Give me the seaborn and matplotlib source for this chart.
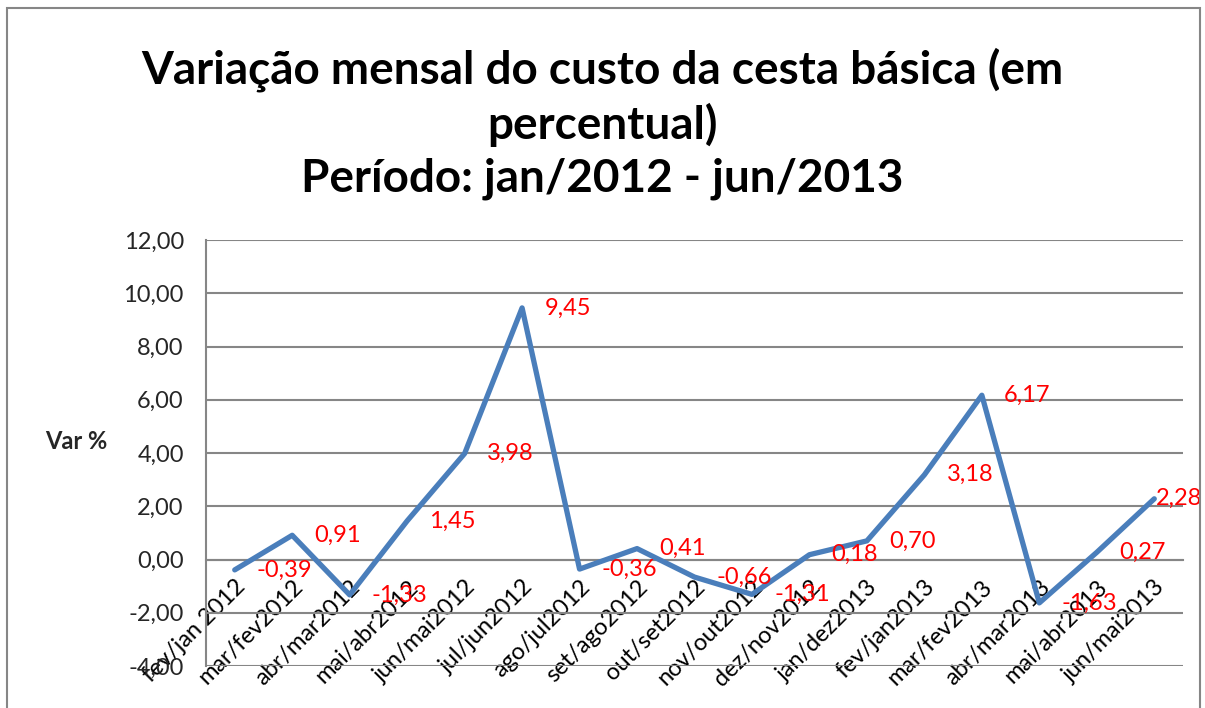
import pandas as pd
import seaborn as sns
import numpy as np
import matplotlib.pyplot as plt
from matplotlib.patches import Rectangle
from matplotlib.ticker import FuncFormatter, MultipleLocator

# dados
periodos = ['fev/jan 2012', 'mar/fev2012', 'abr/mar2012', 'mai/abr2012', 'jun/mai2012',
            'jul/jun2012', 'ago/jul2012', 'set/ago2012', 'out/set2012', 'nov/out2012',
            'dez/nov2012', 'jan/dez2013', 'fev/jan2013', 'mar/fev2013', 'abr/mar2013',
            'mai/abr2013', 'jun/mai2013']
variacao = [-0.39, 0.91, -1.33, 1.45, 3.98, 9.45, -0.36, 0.41, -0.66, -1.31,
            0.18, 0.70, 3.18, 6.17, -1.63, 0.27, 2.28]

titulo = 'Variação mensal do custo da cesta básica (em\npercentual)\nPeríodo: jan/2012 - jun/2013'

df = pd.DataFrame({'periodo': periodos, 'var': variacao})

sns.set_style('white')
plt.rcParams['font.family'] = ['Lato', 'DejaVu Sans']

fig = plt.figure(figsize=(12.05, 7.08), dpi=100)
ax = fig.add_axes([206/1205, 42/708, (1183-206)/1205, (666-240)/708])

cinza = '#868686'
sns.lineplot(data=df, x='periodo', y='var', sort=False, color='#4A7EBB',
             linewidth=3.8, ax=ax, zorder=3)

ax.set_xlim(-0.5, len(periodos) - 0.5)
ax.set_ylim(-4, 12)
ax.yaxis.set_major_locator(MultipleLocator(2))
ax.yaxis.set_major_formatter(FuncFormatter(lambda v, p: f'{v:.2f}'.replace('.', ',')))
ax.grid(axis='y', color=cinza, linewidth=1.5)
ax.grid(axis='x', visible=False)

# eixo x cruzando em zero
ax.spines['bottom'].set_position(('data', 0))
ax.spines['bottom'].set_color(cinza)
ax.spines['bottom'].set_linewidth(1.5)
ax.spines['left'].set_color(cinza)
ax.spines['left'].set_linewidth(1.5)
ax.spines['top'].set_visible(False)
ax.spines['right'].set_visible(False)

ax.set_xticks(range(len(periodos)))
ax.set_xticklabels(periodos, rotation=45, ha='right', rotation_mode='anchor',
                   fontsize=17, color='black')
ax.set_xticks(np.arange(-0.5, len(periodos)), minor=True)
ax.tick_params(axis='x', which='major', length=0, pad=12)
ax.tick_params(axis='x', which='minor', length=7, width=1.5, color=cinza, direction='out')
ax.tick_params(axis='y', which='major', length=7, width=1.5, color=cinza,
               direction='out', labelsize=17, pad=9)
ax.set_xlabel('')
ax.set_ylabel('Var %', fontsize=17, fontweight='bold', rotation=0)
ax.yaxis.set_label_coords(-0.133, 0.5)

# rotulos de dados
for i, v in enumerate(variacao):
    dx = 16 if i < len(variacao) - 1 else 1
    ax.annotate(f'{v:.2f}'.replace('.', ','), (i, v), xytext=(dx, 0),
                textcoords='offset points', va='center', ha='left',
                color='red', fontsize=17, zorder=4, annotation_clip=False)

fig.text(0.5, 1 - 124/708, titulo, ha='center', va='center', fontsize=33,
         fontweight='bold', linespacing=1.3, color='black')

fig.patches.append(Rectangle((7/1205, -0.02), (1200-7)/1205, 1.02 - 8/708,
                             transform=fig.transFigure, fill=False,
                             edgecolor=cinza, linewidth=1.5))

fig.savefig('out.png', dpi=100)
